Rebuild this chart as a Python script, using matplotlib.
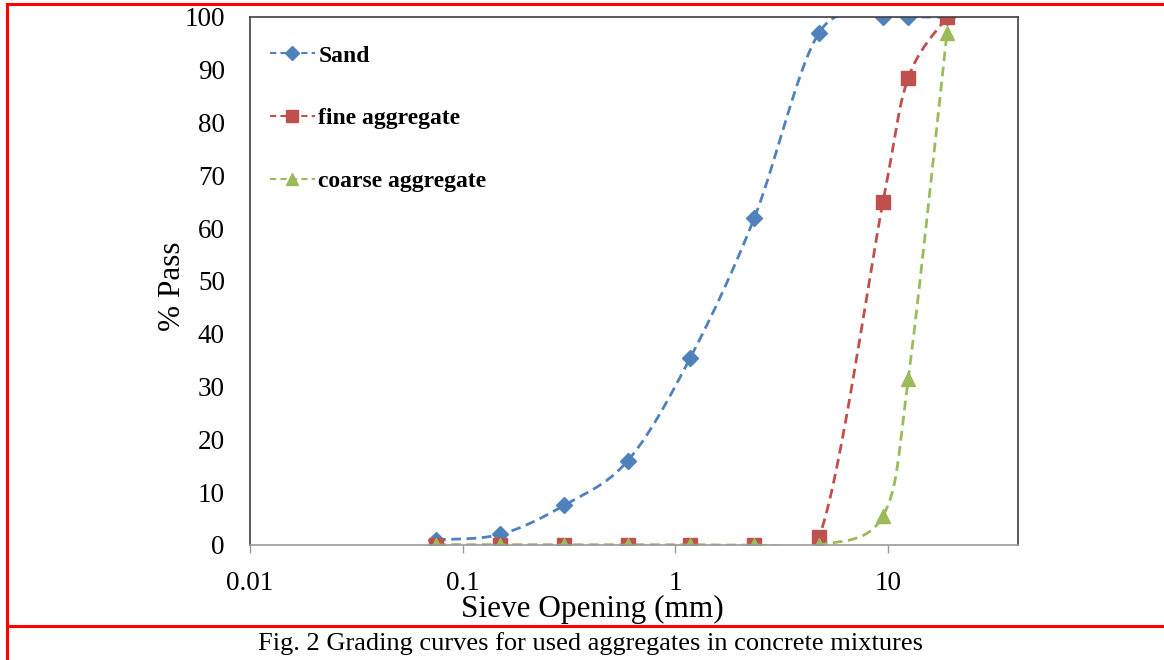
import numpy as np
import matplotlib
matplotlib.use("Agg")
import matplotlib.pyplot as plt
from matplotlib.lines import Line2D

# sieve sizes (mm) and % passing
sieve = [0.075, 0.15, 0.3, 0.6, 1.18, 2.36, 4.75, 9.5, 12.5, 19]
sand = [1, 2, 7.5, 16, 35.5, 62, 97, 100, 100, 100]
fine_agg = [0, 0, 0, 0, 0, 0, 1.5, 65, 88.5, 100]
coarse_agg = [0, 0, 0, 0, 0, 0, 0, 5.5, 31.5, 97]

labels = ["Sand", "fine aggregate", "coarse aggregate"]
colors = ["#4F81BD", "#C0504D", "#9BBB59"]
markers = ["D", "s", "^"]
msizes = [8, 10, 10]


def smooth(xs, ys, n=40):
    """Excel-like smoothed line: Bezier segments with Catmull-Rom handles in log-x space."""
    px = np.log10(xs)
    py = np.asarray(ys, dtype=float)
    outx, outy = [], []
    m = len(px)
    t = np.linspace(0, 1, n)
    for i in range(m - 1):
        i0 = max(i - 1, 0)
        i3 = min(i + 2, m - 1)
        p0 = np.array([px[i], py[i]])
        p3 = np.array([px[i + 1], py[i + 1]])
        c1 = p0 + (np.array([px[i + 1], py[i + 1]]) - np.array([px[i0], py[i0]])) / 6
        c2 = p3 - (np.array([px[i3], py[i3]]) - np.array([px[i], py[i]])) / 6
        b = ((1 - t) ** 3)[:, None] * p0 + (3 * (1 - t) ** 2 * t)[:, None] * c1 \
            + (3 * (1 - t) * t ** 2)[:, None] * c2 + (t ** 3)[:, None] * p3
        outx.extend(b[:, 0])
        outy.extend(b[:, 1])
    return 10 ** np.array(outx), np.array(outy)


fig = plt.figure(figsize=(11.64, 6.6), dpi=100)
ax = fig.add_axes([250 / 1164, 115 / 660, 768 / 1164, 528 / 660])

serif = "Liberation Serif"
handles = []
for ys, lab, c, mk, ms in zip([sand, fine_agg, coarse_agg], labels, colors, markers, msizes):
    sx, sy = smooth(sieve, ys)
    ax.plot(sx, sy, color=c, lw=2, linestyle=(0, (3.5, 2)))
    ax.plot(sieve, ys, linestyle="none", marker=mk, markersize=ms, color=c,
            markeredgecolor=c)
    handles.append(Line2D([], [], color=c, lw=1.5, linestyle=(0, (3, 2)),
                          marker=mk, markersize=ms * 0.85, markeredgecolor=c))

ax.set_xscale("log")
ax.set_xlim(0.01, 41)
ax.set_ylim(0, 100)
ax.set_yticks(range(0, 101, 10))
ax.set_xticks([0.01, 0.1, 1, 10])
ax.set_xticklabels(["0.01", "0.1", "1", "10"])
ax.minorticks_off()

for lab in ax.get_xticklabels() + ax.get_yticklabels():
    lab.set_fontfamily(serif)
    lab.set_fontsize(19.5)
ax.tick_params(axis="y", length=0, pad=18)
ax.tick_params(axis="x", length=6, width=1, color="#999999", pad=13)

ax.spines["bottom"].set_color("#999999")
for s in ["left", "top", "right"]:
    ax.spines[s].set_color("#404040")
for s in ax.spines.values():
    s.set_linewidth(1.2)

ax.set_xlabel("Sieve Opening (mm)", fontfamily=serif, fontsize=22.5, labelpad=0)
ax.xaxis.set_label_coords((592 - 250) / 768, -0.094)
ax.set_ylabel("% Pass", fontfamily=serif, fontsize=22.5)
ax.yaxis.set_label_coords(-(250 - 187) / 768, 0.49)

leg = ax.legend(handles, labels, loc="upper left", bbox_to_anchor=(20 / 768, 1 - 28 / 528),
                frameon=False, borderpad=0, borderaxespad=0,
                handlelength=1.9, handletextpad=0.15, labelspacing=1.75,
                prop={"family": serif, "weight": "bold", "size": 17})

# red frame and caption separator
W, H = 1164, 660
fig.add_artist(Line2D([7 / W, 1], [1 - 4 / H, 1 - 4 / H], color="#FF0000", lw=2.2))
fig.add_artist(Line2D([7 / W, 7 / W], [0, 1 - 4 / H], color="#FF0000", lw=2.2))
fig.add_artist(Line2D([7 / W, 1], [1 - 626 / H, 1 - 626 / H], color="#FF0000", lw=2.2))

fig.text(590 / W, 1 - 644 / H, "Fig. 2 Grading curves for used aggregates in concrete mixtures",
         ha="center", va="center", fontfamily=serif, fontsize=19)

fig.savefig("out.png", dpi=100)
